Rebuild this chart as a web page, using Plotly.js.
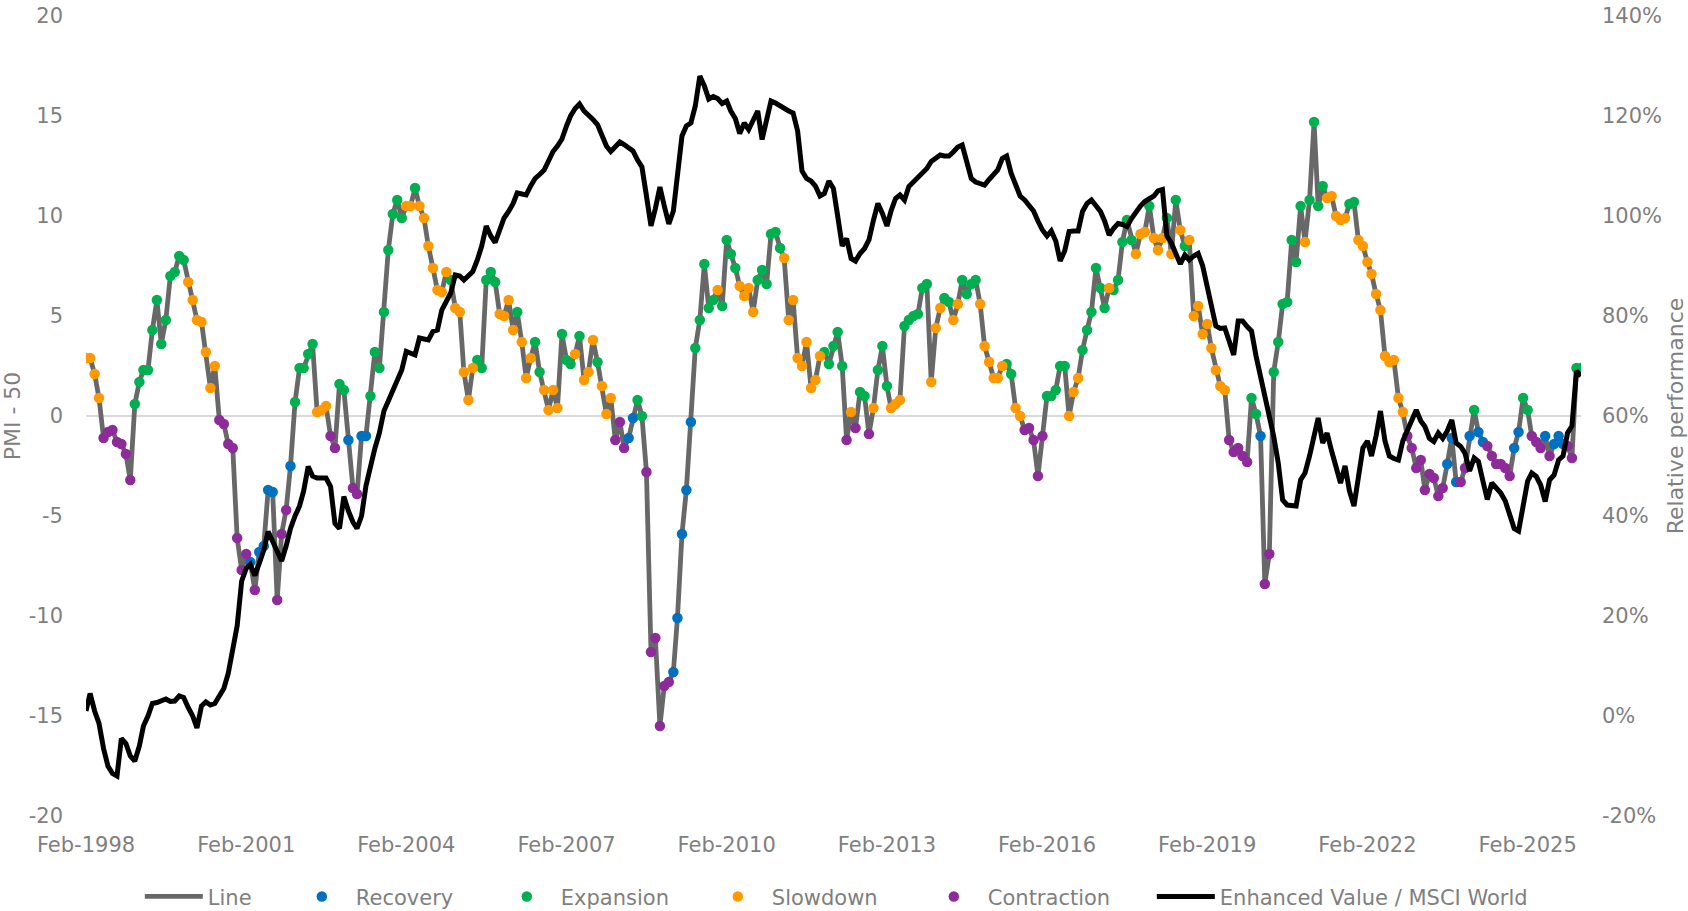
<!DOCTYPE html>
<html>
<head>
<meta charset="utf-8">
<script src="https://cdn.plot.ly/plotly-3.0.1.min.js"></script>
<style>
  html, body { margin: 0; padding: 0; background: #ffffff; }
  #chart { width: 1688px; height: 911px; }
</style>
</head>
<body>
<div id="chart"></div>
<script>
// monthly series, Feb-1998 .. Feb-2026 (one row per 12 months)
const startYear = 1998;
const startMonth = 2;

// PMI - 50
const pmi = [
  2.9, 2.9, 2.1, 0.9, -1.1, -0.8, -0.7, -1.3, -1.4, -1.9, -3.2, 0.6,
  1.7, 2.3, 2.3, 4.3, 5.8, 3.6, 4.8, 7.0, 7.2, 8.0, 7.8, 6.7,
  5.8, 4.8, 4.7, 3.2, 1.4, 2.5, -0.2, -0.4, -1.4, -1.6, -6.1, -7.7,
  -6.9, -7.3, -8.7, -6.8, -6.5, -3.7, -3.8, -9.2, -5.9, -4.7, -2.5, 0.7,
  2.4, 2.4, 3.1, 3.6, 0.2, 0.3, 0.5, -1.0, -1.6, 1.6, 1.3, -1.2,
  -3.6, -3.9, -1.0, -1.0, 1.0, 3.2, 2.4, 5.2, 8.3, 10.1, 10.8, 9.9,
  10.5, 10.5, 11.4, 10.5, 9.9, 8.5, 7.4, 6.3, 6.2, 7.2, 6.8, 5.4,
  5.2, 2.2, 0.8, 2.4, 2.8, 2.4, 6.8, 7.2, 6.7, 5.1, 5.0, 5.8,
  4.3, 5.2, 3.7, 1.9, 2.9, 3.7, 2.2, 1.3, 0.3, 1.3, 0.4, 4.1,
  2.8, 2.6, 3.1, 4.0, 1.8, 2.2, 3.8, 2.7, 1.5, 0.1, 0.9, -1.2,
  -0.3, -1.6, -1.1, -0.1, 0.8, 0.0, -2.8, -11.8, -11.1, -15.5, -13.5, -13.3,
  -12.8, -10.1, -5.9, -3.7, -0.3, 3.4, 4.8, 7.6, 5.4, 5.8, 6.3, 5.5,
  8.8, 8.1, 7.4, 6.5, 6.0, 6.4, 5.2, 6.8, 7.3, 6.6, 9.1, 9.2,
  8.4, 7.9, 4.8, 5.8, 2.9, 2.5, 3.7, 1.4, 1.8, 3.0, 3.2, 2.6,
  3.5, 4.2, 2.5, -1.2, 0.2, -0.6, 1.2, 1.0, -0.9, 0.4, 2.3, 3.5,
  1.5, 0.4, 0.6, 0.8, 4.5, 4.8, 5.0, 5.1, 6.4, 6.6, 1.7, 4.4,
  5.4, 5.9, 5.7, 4.8, 5.6, 6.8, 6.1, 6.6, 6.8, 5.6, 3.5, 2.7,
  1.9, 1.9, 2.5, 2.6, 2.1, 0.4, 0.0, -0.7, -0.6, -1.2, -3.0, -1.0,
  1.0, 1.0, 1.3, 2.5, 2.5, 0.0, 1.2, 1.9, 3.3, 4.3, 5.2, 7.4,
  6.4, 5.4, 6.4, 6.3, 6.8, 8.7, 9.8, 8.8, 8.1, 9.1, 9.2, 10.5,
  8.9, 8.3, 8.9, 9.9, 8.1, 10.8, 9.3, 8.5, 8.8, 5.0, 5.5, 4.1,
  4.6, 3.4, 2.3, 1.5, 1.3, -1.2, -1.8, -1.6, -2.0, -2.3, 0.9, 0.1,
  -1.0, -8.4, -6.9, 2.2, 3.7, 5.6, 5.7, 8.8, 7.7, 10.5, 8.7, 10.8,
  14.7, 10.5, 11.5, 10.9, 11.0, 10.0, 9.8, 9.9, 10.6, 10.7, 8.8, 8.5,
  7.7, 7.1, 6.1, 5.3, 3.0, 2.7, 2.8, 0.9, 0.2, -1.0, -1.6, -2.6,
  -2.2, -3.7, -2.9, -3.1, -4.0, -3.6, -2.4, -1.1, -3.3, -3.3, -2.6, -1.0,
  0.3, -0.8, -1.3, -1.5, -2.0, -2.4, -2.4, -2.6, -3.0, -1.6, -0.8, 0.9,
  0.3, -1.0, -1.3, -1.6, -1.0, -2.0, -1.4, -1.0, -1.4, -1.5, -2.1, 2.4,
  2.4
];

// cycle phase of each month: R recovery, E expansion, O slowdown, C contraction
const phase = [
  "OOOOCCCCCCCE", "EEEEEEEEEEEO", "OOOOOOCCCCCC", "CRCRRRRCCCRE",
  "EEEEOOOCCEER", "CCRREEEEEEEE", "OOEOOOOOOOEO", "OOOOEEEEEOOO",
  "OEOOOEEOOOOE", "EEOEOOOEOOOC", "CCRREECCCCCC", "RRRRREEEEEOE",
  "EEEOOOOEEEEE", "EOOOOOOOOOEE", "EEECOCEECOEE", "EOOOEEEEEEOO",
  "OEEOOEEEEOOO", "OOOEEOOCCCCC", "EEEEEOOOEEEE", "EEOEEEEEOOOE",
  "OOOEOEOEOOOO", "OOOOOCCCCCEE", "RCCEEEEEEEOE", "EEEOOOOOEEOO",
  "OOOOOOOOOCCC", "CCCCCCRRRCCR", "ERRCCCCCCRRE", "ECCCRCRRRCCE",
  "E"
].join("");

// Enhanced Value / MSCI World, relative performance in %
const relPerf = [
  1, 4.5, 1, -1.5, -6.5, -10, -11.5, -12, -4.5, -5.5, -8, -9,
  -6, -2, 0, 2.5, 2.7, 3, 3.4, 2.9, 3, 4, 3.7, 1.7,
  0, -2.4, 2, 2.8, 2.2, 2.5, 4, 5.5, 8.5, 13, 18, 27,
  29.5, 30.3, 28.1, 30.5, 33.2, 36.9, 35, 33.2, 31, 34, 37.5, 40,
  42, 45, 49.9, 48, 47.6, 47.6, 47.6, 45.9, 38.5, 37.5, 43.9, 41,
  38.8, 37.5, 40, 46, 50, 53.5, 56.6, 61, 63, 65, 67.2, 69.2,
  72.9, 72.5, 72.2, 75.6, 75.4, 75.2, 76.9, 77.2, 81.2, 83, 84.6, 88.2,
  88, 87.2, 88, 88.9, 91.2, 94, 98, 96, 94.7, 97, 99.6, 100.9,
  102.5, 104.6, 104.5, 104.2, 106, 107.5, 108.3, 109.2, 111, 112.9, 114, 115.4,
  118, 120, 121.5, 122.4, 121, 120.3, 119.3, 118.3, 116, 114, 112.9, 114,
  114.8, 114.3, 113.7, 113, 111.2, 109.8, 104, 98, 101.5, 105.8, 102, 98.4,
  101, 109, 116, 118, 118.6, 122, 128, 126, 123.4, 123.9, 123.5, 122.5,
  123, 121, 119.5, 116.5, 118.6, 117.3, 119, 121, 115.3, 119, 123, 122.6,
  122, 121.4, 121, 120.6, 117, 109, 107.5, 107, 106, 104, 104.5, 107,
  105.5, 100, 94, 95.5, 91.5, 91, 92.5, 93.5, 95.2, 99.2, 102.5, 100.5,
  98, 101, 103.5, 104.2, 103.2, 105.9, 106.9, 107.9, 108.7, 109.5, 110.9, 111.5,
  112.2, 112, 112, 112.8, 113.8, 114.2, 110.6, 107.5, 106.8, 106.5, 106.2, 107.3,
  108.5, 109.2, 111.5, 112, 108.5, 106, 104, 103.2, 102, 101, 99, 97.2,
  96, 97, 95, 91, 93, 96.9, 97, 97, 100.9, 102.5, 103.2, 102,
  100.9, 99, 96.2, 97.5, 98.5, 98.3, 97.9, 99.5, 100.9, 102, 102.9, 103.5,
  104, 105, 105.3, 96, 94.6, 92.5, 90.4, 92.2, 91.2, 92, 92.5, 90,
  86, 82, 78, 77.5, 77.6, 75, 72.2, 79, 79, 77.9, 77, 72,
  68, 64, 60, 55.9, 50.6, 43.2, 42.2, 42.2, 42, 47.2, 48.6, 52,
  56, 59.6, 54.6, 56.6, 53, 50, 46.6, 50, 45, 42, 48, 53.6,
  55, 52, 56, 61, 55, 52, 51.5, 51.2, 55, 57.3, 59, 61.2,
  59, 57.9, 55.5, 54.9, 56.6, 55.5, 57, 59.2, 54.6, 53.9, 52.5, 49,
  51.6, 50.9, 47, 43.3, 46.6, 45.5, 44.6, 43, 40.6, 37.5, 37, 42.5,
  47, 48.6, 47.9, 46.2, 42.9, 47.2, 48.2, 51.2, 52, 56.6, 58, 69,
  68
];

const phaseNames = ["Recovery", "Expansion", "Slowdown", "Contraction"];
const phaseCodes = ["R", "E", "O", "C"];
const phaseColors = ["#0070c0", "#00b050", "#ff9900", "#8e2b9a"];

const leftTickVals = [-20, -15, -10, -5, 0, 5, 10, 15, 20];
const leftTickText = ["-20", "-15", "-10", "-5", "0", "5", "10", "15", "20"];
const rightTickVals = [-20, 0, 20, 40, 60, 80, 100, 120, 140];
const rightTickText = ["-20%", "0%", "20%", "40%", "60%", "80%", "100%", "120%", "140%"];

// month dates for the x axis
const dates = pmi.map(function (v, i) {
  let m = startMonth - 1 + i;
  let y = startYear + Math.floor(m / 12);
  let mm = (m % 12) + 1;
  return y + "-" + (mm < 10 ? "0" + mm : mm) + "-01";
});

const textColor = "#7f7f7f";
const font = "'DejaVu Sans', sans-serif";
// legend entry widths (text part) so the items sit where the original has them
const legendWidths = [75, 132, 138, 143, 159];

let traces = [];
traces.push({
  "name": "Line",
  "x": dates,
  "y": pmi,
  "type": "scatter",
  "mode": "lines",
  "line": { "color": "#686868", "width": 4.8 },
  "legendwidth": legendWidths[0],
  "hoverinfo": "skip"
});
for (let k = 0; k < phaseNames.length; k++) {
  let xs = [];
  let ys = [];
  for (let i = 0; i < pmi.length; i++) {
    if (phase[i] === phaseCodes[k]) {
      xs.push(dates[i]);
      ys.push(pmi[i]);
    }
  }
  traces.push({
    "name": phaseNames[k],
    "x": xs,
    "y": ys,
    "type": "scatter",
    "mode": "markers",
    "marker": { "color": phaseColors[k], "size": 10.5 },
    "legendwidth": legendWidths[k + 1]
  });
}
traces.push({
  "name": "Enhanced Value / MSCI World",
  "x": dates,
  "y": relPerf,
  "yaxis": "y2",
  "type": "scatter",
  "mode": "lines",
  "line": { "color": "#000000", "width": 5 }
});

const layout = {
  "width": 1688,
  "height": 911,
  "paper_bgcolor": "#ffffff",
  "plot_bgcolor": "#ffffff",
  "margin": { "l": 86, "r": 107, "t": 16, "b": 95, "autoexpand": false },
  "font": { "family": font, "size": 21, "color": textColor },
  "showlegend": true,
  "legend": {
    "orientation": "h",
    "x": 0.036,
    "xanchor": "left",
    "y": -0.101,
    "yanchor": "middle",
    "itemwidth": 58,
    "font": { "family": font, "size": 21, "color": textColor }
  },
  "xaxis": {
    "type": "date",
    "range": [dates[0], dates[dates.length - 1]],
    "tick0": dates[0],
    "dtick": "M36",
    "tickformat": "%b-%Y",
    "showgrid": false,
    "zeroline": false,
    "showline": false,
    "ticks": "",
    "ticklabelstandoff": 14,
    "automargin": false,
    "tickfont": { "family": font, "size": 21, "color": textColor }
  },
  "yaxis": {
    "range": [-20, 20],
    "tickmode": "array",
    "tickvals": leftTickVals,
    "ticktext": leftTickText,
    "showgrid": false,
    "zeroline": true,
    "zerolinecolor": "#d9d9d9",
    "zerolinewidth": 2,
    "showline": false,
    "ticks": "",
    "ticklabelstandoff": 22,
    "automargin": false,
    "tickfont": { "family": font, "size": 21, "color": textColor },
    "title": { "text": "PMI - 50", "standoff": 19, "font": { "family": font, "size": 22, "color": textColor } }
  },
  "yaxis2": {
    "overlaying": "y",
    "side": "right",
    "range": [-20, 140],
    "tickmode": "array",
    "tickvals": rightTickVals,
    "ticktext": rightTickText,
    "showgrid": false,
    "zeroline": false,
    "showline": false,
    "ticks": "",
    "ticklabelstandoff": 20,
    "automargin": false,
    "tickfont": { "family": font, "size": 21, "color": textColor },
    "title": { "text": "Relative performance", "standoff": 20, "font": { "family": font, "size": 22, "color": textColor } }
  }
};

Plotly.newPlot("chart", traces, layout, { "displayModeBar": false, "staticPlot": true });
</script>
</body>
</html>
